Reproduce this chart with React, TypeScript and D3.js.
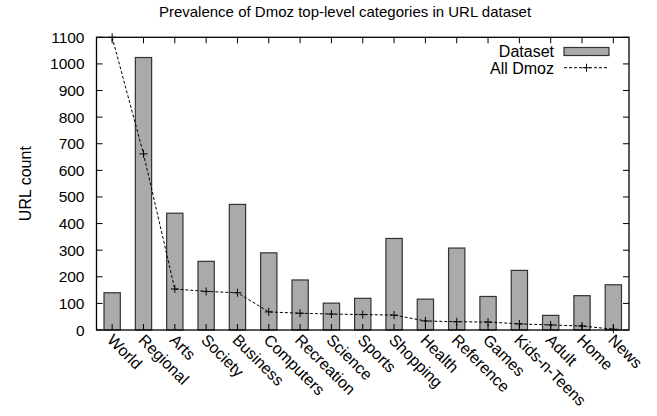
import React from "react";
import * as d3 from "d3";

const categories = ["World","Regional","Arts","Society","Business","Computers","Recreation","Science","Sports","Shopping","Health","Reference","Games","Kids-n-Teens","Adult","Home","News"];
const datasetValues = [140,1024,439,258,472,290,188,101,119,344,116,308,126,224,55,129,170];
const dmozValues = [1100,662,154,145,140,68,63,60,58,56,34,31,30,23,19,15,3];
const yTicks = [0,100,200,300,400,500,600,700,800,900,1000,1100];

const W = 657, H = 416;
const M = { left: 96.5, right: 629, top: 37.3, bottom: 330 };
const FONT = "'Liberation Sans', Arial, Helvetica, sans-serif";
const FS = 16;

export default function App() {
  const x = d3.scaleBand<string>().domain(categories).range([M.left, M.right]).paddingInner(0).paddingOuter(0);
  const y = d3.scaleLinear().domain([0, 1100]).range([M.bottom, M.top]);
  const bw = x.bandwidth();
  const barW = bw * 0.52;
  const cx = (c: string) => (x(c) as number) + bw / 2;
  const line = d3.line<number>().x((_, i) => cx(categories[i])).y((v) => y(v));
  const tl = 6;
  return (
    <svg width={W} height={H} style={{ position: "absolute", left: 0, top: 0, background: "#fff" }} fontFamily={FONT}>
      <text x={345} y={17} textAnchor="middle" fontSize={15}>Prevalence of Dmoz top-level categories in URL dataset</text>
      <text transform={`translate(31,${(M.top + M.bottom) / 2}) rotate(-90)`} textAnchor="middle" fontSize={FS}>URL count</text>
      {datasetValues.map((v, i) => (
        <rect key={i} x={cx(categories[i]) - barW / 2} y={y(v)} width={barW} height={y(0) - y(v)} fill="#aaaaaa" stroke="#333" strokeWidth={1.2} />
      ))}
      <path d={line(dmozValues) || ""} fill="none" stroke="#000" strokeWidth={1} strokeDasharray="3,2" />
      {dmozValues.map((v, i) => (
        <g key={i} stroke="#000" strokeWidth={1}>
          <line x1={cx(categories[i]) - 4} x2={cx(categories[i]) + 4} y1={y(v)} y2={y(v)} />
          <line x1={cx(categories[i])} x2={cx(categories[i])} y1={y(v) - 4} y2={y(v) + 4} />
        </g>
      ))}
      <rect x={M.left} y={M.top} width={M.right - M.left} height={M.bottom - M.top} fill="none" stroke="#000" strokeWidth={1.3} />
      {yTicks.map((t) => (
        <g key={t}>
          <line x1={M.left} x2={M.left + tl} y1={y(t)} y2={y(t)} stroke="#000" />
          <line x1={M.right} x2={M.right - tl} y1={y(t)} y2={y(t)} stroke="#000" />
          <text x={M.left - 12} y={y(t) + 5.5} textAnchor="end" fontSize={15.5}>{t}</text>
        </g>
      ))}
      {categories.map((c) => (
        <g key={c}>
          <line x1={cx(c)} x2={cx(c)} y1={M.bottom} y2={M.bottom - tl} stroke="#000" />
          <line x1={cx(c)} x2={cx(c)} y1={M.top} y2={M.top + tl} stroke="#000" />
          <text transform={`translate(${cx(c) - 6},${M.bottom + 11}) rotate(45)`} fontSize={FS}>{c}</text>
        </g>
      ))}
      <text x={554} y={57} textAnchor="end" fontSize={FS}>Dataset</text>
      <rect x={564} y={47.5} width={45} height={8} fill="#aaaaaa" stroke="#333" strokeWidth={1.2} />
      <text x={554} y={73.5} textAnchor="end" fontSize={FS}>All Dmoz</text>
      <line x1={564} x2={609} y1={67.7} y2={67.7} stroke="#000" strokeDasharray="3,2" />
      <line x1={582.5} x2={590.5} y1={67.7} y2={67.7} stroke="#000" />
      <line x1={586.5} x2={586.5} y1={63.7} y2={71.7} stroke="#000" />
    </svg>
  );
}
